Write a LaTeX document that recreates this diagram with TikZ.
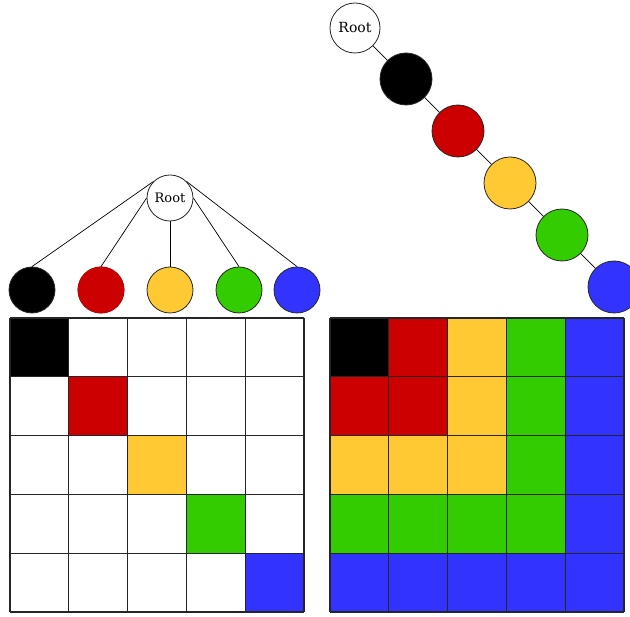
\documentclass[tikz,border=0pt]{standalone}
\usepackage{fontspec}
\setmainfont{DejaVu Serif}
\definecolor{cred}{HTML}{CC0000}
\definecolor{cyellow}{HTML}{FFC933}
\definecolor{cgreen}{HTML}{33CC00}
\definecolor{cblue}{HTML}{3333FF}
\begin{document}
\begin{tikzpicture}[x=1pt,y=-1pt,
    ball/.style={circle, draw=black!85, line width=0.8pt, inner sep=0pt, minimum size=#1},
    ball/.default=46pt,
    gridline/.style={draw=black!85, line width=1.1pt},
    edge/.style={draw=black, line width=0.7pt}]
  \useasboundingbox (0,0) rectangle (630,617);

  % left: star tree
  \node[ball, fill=white, font=\fontsize{13}{15}\selectfont] (lroot) at (170,198) {Root};
  \foreach \c/\x [count=\i] in {black/32, cred/101, cyellow/170, cgreen/239, cblue/297}
    \node[ball, fill=\c] (l\i) at (\x,290) {};
  \node[ball, fill=cred, draw=cred] at (l2) {};
  \foreach \a [count=\i] in {135, west, south, east, 45}
    \draw[edge] (lroot.\a) -- (l\i.north);

  % right: chain
  \node[ball=50pt, fill=white, font=\fontsize{14}{16}\selectfont] (rroot) at (355,28) {Root};
  \foreach \c [count=\i] in {black, cred, cyellow, cgreen, cblue}
    \node[ball=52pt, fill=\c] (r\i) at ({354+52*\i},{27+52*\i}) {};
  \draw[edge] (rroot) -- (r1);
  \foreach \i [count=\j from 2] in {1,...,4}
    \draw[edge] (r\i) -- (r\j);

  % left matrix, diagonal only
  \foreach \c [count=\i from 0] in {black, cred, cyellow, cgreen, cblue}
    \fill[\c] ({10+58.8*\i},{318+58.8*\i}) rectangle +(58.8,58.8);
  \foreach \i in {0,...,5} {
    \draw[gridline] ({10+58.8*\i},318) -- ++(0,294);
    \draw[gridline] (10,{318+58.8*\i}) -- ++(294,0);
  }

  % right matrix, nested blocks
  \foreach \c/\k in {cblue/5, cgreen/4, cyellow/3, cred/2, black/1}
    \fill[\c] (330,318) rectangle +({58.8*\k},{58.8*\k});
  \foreach \i in {0,...,5} {
    \draw[gridline] ({330+58.8*\i},318) -- ++(0,294);
    \draw[gridline] (330,{318+58.8*\i}) -- ++(294,0);
  }
\end{tikzpicture}
\end{document}
